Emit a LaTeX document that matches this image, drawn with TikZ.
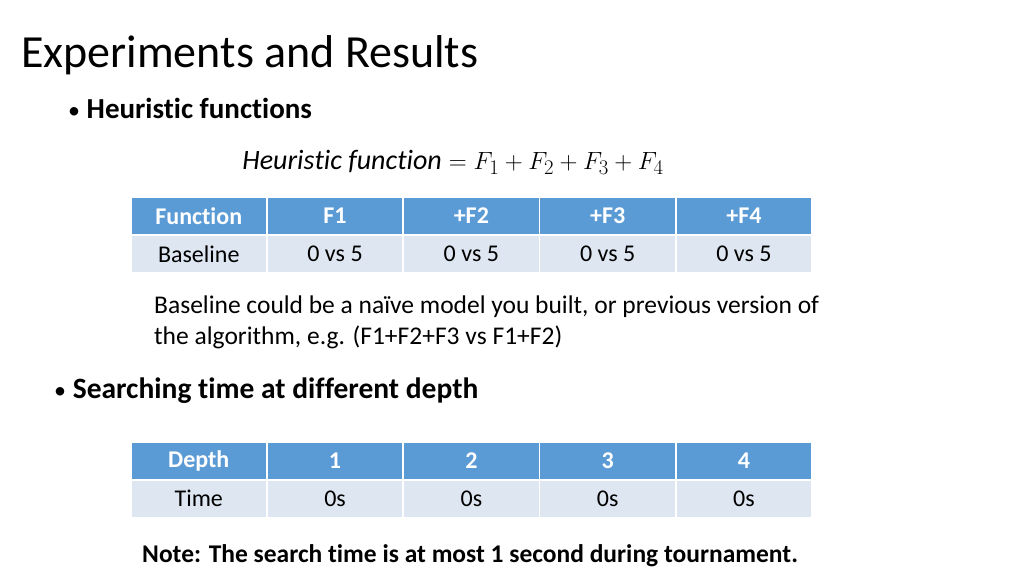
\documentclass[tikz,border=0pt]{standalone}
\usepackage{fontspec}
\setmainfont[Ligatures=NoCommon]{Carlito}
\begin{document}
\begin{tikzpicture}[x=1pt,y=-1pt,
 hd/.style={fill=hdblue,draw=white,line width=1.5pt,text=white,font=\fontsize{24}{28}\selectfont\bfseries,minimum width=136pt,minimum height=38pt,inner sep=0pt,anchor=north west},
 dc/.style={fill=dcblue,draw=white,line width=1.5pt,text=black,font=\fontsize{24}{28}\selectfont,minimum width=136pt,minimum height=38pt,inner sep=0pt,anchor=north west},
 txt/.style={anchor=west,inner sep=0pt,font=\fontsize{25}{30}\selectfont}]
\definecolor{hdblue}{RGB}{91,155,213}
\definecolor{dcblue}{RGB}{221,230,241}
\useasboundingbox[fill=white] (0,0) rectangle (1024,576);
\node[anchor=west,inner sep=0pt,font=\fontsize{46}{52}\selectfont] (title) at (21,55) {Experiments and Results};
\node[txt,font=\fontsize{29}{34}\selectfont] (b1) at (68,108) {{\fontsize{24}{28}\selectfont\textbullet}\ \textbf{Heuristic functions}};
\node[anchor=center,inner sep=0pt,font=\fontsize{28}{32}\selectfont] (eq) at (453,162) {$\mathit{Heuristic\ function} = F_1 + F_2 + F_3 + F_4$};
\foreach \t [count=\i from 0] in {Function,F1,+F2,+F3,+F4}
  \node[hd] (h\i) at (130+136.3*\i,196) {\t};
\foreach \t [count=\i from 0] in {Baseline,0 vs 5,0 vs 5,0 vs 5,0 vs 5}
  \node[dc] (d\i) at (130+136.3*\i,234) {\t};
\node[txt,anchor=north west,align=left,font=\fontsize{25.5}{31}\selectfont] (note1) at (154,296) {Baseline could be a na\"ive model you built, or previous version of\\the algorithm, e.g. (F1+F2+F3 vs F1+F2)};
\node[txt,font=\fontsize{29.5}{34}\selectfont] (b2) at (54,391) {{\fontsize{24}{28}\selectfont\textbullet}\ \textbf{Searching time at different depth}};
\foreach \t [count=\i from 0] in {Depth,1,2,3,4}
  \node[hd] (g\i) at (130+136.3*\i,441) {\t};
\foreach \t [count=\i from 0] in {Time,0s,0s,0s,0s}
  \node[dc] (e\i) at (130+136.3*\i,479) {\t};
\node[txt,font=\fontsize{25.5}{30}\selectfont\bfseries] (note2) at (142,556) {Note: The search time is at most 1 second during tournament.};
\end{tikzpicture}
\end{document}
